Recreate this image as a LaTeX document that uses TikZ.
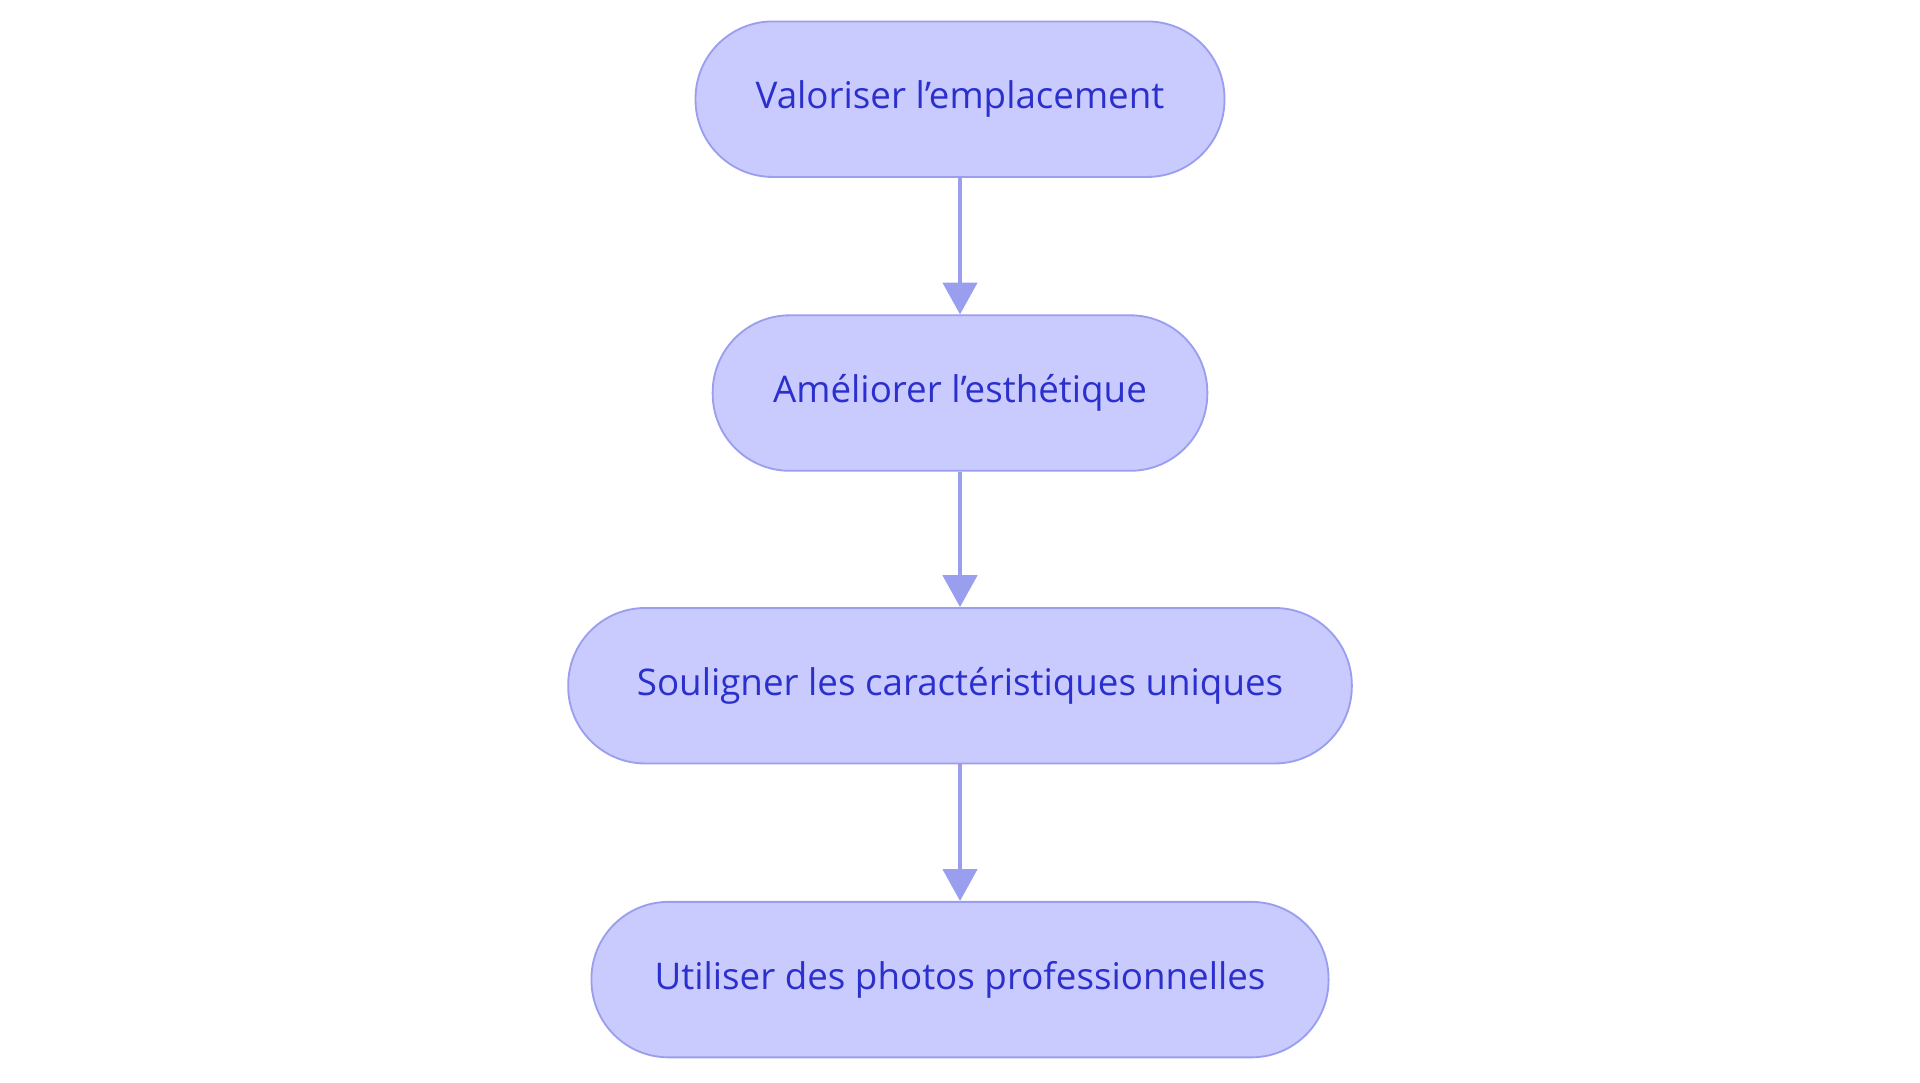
\documentclass[tikz,border=0pt]{standalone}
\usepackage{fontspec}
\setmainfont{Open Sans}
\usetikzlibrary{arrows.meta}
\definecolor{fillc}{HTML}{C9CAFE}
\definecolor{linec}{HTML}{9A9EEE}
\definecolor{textc}{HTML}{2B2FCC}
\tikzset{
  pill/.style={draw=linec, line width=1.5pt, fill=fillc, rounded corners=63pt, minimum height=127pt, text=textc, font=\fontsize{30}{36}\selectfont, inner sep=0pt},
  conn/.style={draw=linec, line width=3pt, -{Triangle[length=26pt,width=28pt]}}
}
\begin{document}
\begin{tikzpicture}[x=1pt,y=-1pt]
\useasboundingbox (0,0) rectangle (1568,884);
\node[pill, minimum width=432pt] (a) at (784,81) {Valoriser l’emplacement};
\node[pill, minimum width=404pt] (b) at (784,321) {Améliorer l’esthétique};
\node[pill, minimum width=640pt] (c) at (784,560) {Souligner les caractéristiques uniques};
\node[pill, minimum width=602pt] (d) at (784,800) {Utiliser des photos professionnelles};
\draw[conn] (a) -- (b);
\draw[conn] (b) -- (c);
\draw[conn] (c) -- (d);
\end{tikzpicture}
\end{document}
